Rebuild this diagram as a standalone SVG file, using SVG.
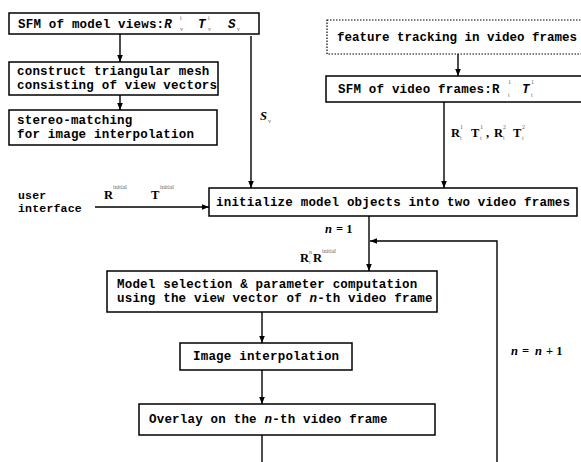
<svg xmlns="http://www.w3.org/2000/svg" width="581" height="462" viewBox="0 0 581 462">
  <style>
    .box { fill: #fff; stroke: #000; stroke-width: 1.5; }
    .dot { fill: #fff; stroke: #000; stroke-width: 1.2; stroke-dasharray: 1.5 1.5; }
    .t { font-family: "Liberation Mono", "DejaVu Sans Mono", monospace; font-weight: bold; font-size: 12.5px; letter-spacing: 0.2px; fill: #000; }
    .u { font-size: 11.5px; }
    .tight { letter-spacing: 0px; }
    .lbl { font-family: "Liberation Serif", serif; font-weight: bold; font-size: 12.5px; fill: #000; }
    .it { font-style: italic; }
    .sup { font-family: "Liberation Serif", serif; font-size: 6px; fill: #666; }
    .ln { fill: none; stroke: #000; stroke-width: 1.4; }
  </style>
  <defs>
    <marker id="ah" viewBox="0 0 10 10" refX="10" refY="5" markerWidth="7" markerHeight="7" orient="auto" markerUnits="userSpaceOnUse">
      <path d="M0,1 L10,5 L0,9 z" fill="#000"/>
    </marker>
  </defs>
  <rect width="581" height="462" fill="#fff"/>

  <!-- nodes -->
  <g id="sfm-model">
    <rect class="box" x="9" y="13" width="250" height="21"/>
    <text class="t" x="18" y="28">SFM of model views:<tspan class="it">R</tspan></text>
    <text class="sup" x="180" y="20">i</text><text class="sup" x="180" y="31">v</text>
    <text class="t it" x="198" y="28">T</text>
    <text class="sup" x="208" y="20">i</text><text class="sup" x="208" y="31">v</text>
    <text class="t it" x="228" y="28">S</text>
    <text class="sup" x="237" y="31">v</text>
  </g>
  <g id="mesh">
    <rect class="box" x="9" y="62" width="209" height="33"/>
    <text class="t" x="17" y="75">construct triangular mesh</text>
    <text class="t" x="17" y="89">consisting of view vectors</text>
  </g>
  <g id="stereo">
    <rect class="box" x="9" y="110" width="208" height="35"/>
    <text class="t" x="17" y="124">stereo-matching</text>
    <text class="t" x="17" y="138">for image interpolation</text>
  </g>
  <g id="tracking">
    <rect class="dot" x="327" y="20" width="262" height="34"/>
    <text class="t tight" x="337" y="41">feature tracking in video frames</text>
  </g>
  <g id="sfm-video">
    <rect class="box" x="326" y="76" width="262" height="26"/>
    <text class="t" x="338" y="93">SFM of video frames:R</text>
    <text class="sup" x="508" y="84">1</text><text class="sup" x="508" y="97">t</text>
    <text class="t it" x="522" y="93">T</text>
    <text class="sup" x="531" y="84">1</text><text class="sup" x="531" y="97">t</text>
  </g>
  <g id="init">
    <rect class="box" x="209" y="188" width="368" height="28"/>
    <text class="t" x="216" y="206">initialize model objects into two video frames</text>
  </g>
  <g id="select">
    <rect class="box" x="107" y="271" width="330" height="41"/>
    <text class="t" x="117" y="288">Model selection &amp; parameter computation</text>
    <text class="t" x="117" y="302">using the view vector of <tspan class="it">n</tspan>-th video frame</text>
  </g>
  <g id="interp">
    <rect class="box" x="180" y="343" width="172" height="27"/>
    <text class="t" x="193" y="360">Image interpolation</text>
  </g>
  <g id="overlay">
    <rect class="box" x="139" y="404" width="296" height="31"/>
    <text class="t" x="149" y="423">Overlay on the <tspan class="it">n</tspan>-th video frame</text>
  </g>
  <g id="user">
    <text class="t u" x="18" y="199">user</text>
    <text class="t u" x="18" y="212">interface</text>
  </g>

  <!-- connectors -->
  <g id="connectors">
    <line class="ln" x1="120" y1="34" x2="120" y2="62" marker-end="url(#ah)"/>
    <line class="ln" x1="120" y1="95" x2="120" y2="110" marker-end="url(#ah)"/>
    <line class="ln" x1="251" y1="36" x2="251" y2="188" marker-end="url(#ah)"/>
    <line class="ln" x1="458" y1="54" x2="458" y2="76" marker-end="url(#ah)"/>
    <line class="ln" x1="444" y1="102" x2="444" y2="188" marker-end="url(#ah)"/>
    <line class="ln" x1="95" y1="207" x2="209" y2="207" marker-end="url(#ah)"/>
    <line class="ln" x1="369" y1="216" x2="369" y2="271" marker-end="url(#ah)"/>
    <polyline class="ln" points="497,462 497,241 370,241" marker-end="url(#ah)"/>
    <line class="ln" x1="262" y1="312" x2="262" y2="343" marker-end="url(#ah)"/>
    <line class="ln" x1="262" y1="370" x2="262" y2="404" marker-end="url(#ah)"/>
    <line class="ln" x1="262" y1="435" x2="262" y2="462"/>
  </g>

  <!-- connector labels -->
  <g id="labels">
    <text class="lbl it" x="260" y="120">S</text><text class="sup" x="268" y="123">v</text>
    <text class="lbl" x="451" y="137">R</text><text class="sup" x="460" y="129">1</text><text class="sup" x="460" y="140">t</text>
    <text class="lbl" x="471" y="137">T</text><text class="sup" x="480" y="129">1</text><text class="sup" x="480" y="140">t</text>
    <text class="lbl" x="486" y="137">,</text>
    <text class="lbl" x="494" y="137">R</text><text class="sup" x="503" y="129">2</text><text class="sup" x="503" y="140">t</text>
    <text class="lbl" x="513" y="137">T</text><text class="sup" x="522" y="129">2</text><text class="sup" x="522" y="140">t</text>
    <text class="lbl" x="104" y="199">R</text><text class="sup" x="113" y="189">initial</text>
    <text class="lbl" x="151" y="199">T</text><text class="sup" x="160" y="189">initial</text>
    <text class="lbl it" x="325" y="233">n</text><text class="lbl" x="336" y="233">= 1</text>
    <text class="lbl" x="300" y="262">R</text><text class="sup" x="309" y="254">n</text><text class="sup" x="309" y="264">t</text>
    <text class="lbl" x="313" y="262">R</text><text class="sup" x="322" y="253">initial</text>
    <text class="lbl it" x="511" y="355">n</text><text class="lbl" x="522" y="355">=</text>
    <text class="lbl it" x="535" y="355">n</text><text class="lbl" x="546" y="355">+ 1</text>
  </g>
</svg>
